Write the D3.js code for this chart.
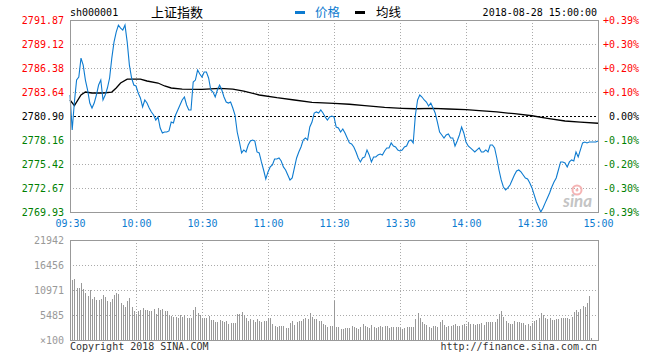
<!DOCTYPE html>
<html>
<head>
<meta charset="utf-8">
<script src="https://cdn.jsdelivr.net/npm/d3@7"></script>
<style>
  html, body { margin: 0; padding: 0; background: #fff; }
  svg { display: block; }
  .mono { font-family: "DejaVu Sans Mono", "Liberation Mono", monospace; font-size: 10px; }
</style>
</head>
<body>
<svg id="chart" width="660" height="360"></svg>
<script>
// ---------------- data ----------------
const prevClose = 2780.90;
const priceTicks = [2791.87, 2789.12, 2786.38, 2783.64, 2780.90, 2778.16, 2775.42, 2772.67, 2769.93];
const priceLabels = ["2791.87", "2789.12", "2786.38", "2783.64", "2780.90", "2778.16", "2775.42", "2772.67", "2769.93"];
const pctLabels = ["+0.39%", "+0.30%", "+0.20%", "+0.10%", "0.00%", "-0.10%", "-0.20%", "-0.30%", "-0.39%"];
const timeTicks = [0, 30, 60, 90, 120, 150, 180, 210, 240];
const timeLabels = ["09:30", "10:00", "10:30", "11:00", "11:30", "13:30", "14:00", "14:30", "15:00"];
const volTicks = [0, 5485, 10971, 16456, 21942];
const volLabels = ["\u00d7100", "5485", "10971", "16456", "21942"];

// minute-by-minute index price (09:30 .. 15:00)
const prices = [
2783.30,2779.30,2782.50,2785.01,2785.35,2787.52,2786.72,2785.01,2783.87,2782.38,
2781.81,2782.38,2783.30,2784.44,2785.01,2782.73,2783.30,2784.10,2785.24,2787.52,
2789.35,2790.49,2791.29,2790.95,2790.72,2791.29,2789.35,2786.72,2785.24,2784.44,
2784.33,2783.53,2782.96,2781.93,2782.73,2782.38,2781.81,2781.36,2781.01,2780.44,
2780.79,2779.53,2778.96,2779.07,2779.07,2779.19,2780.21,2780.10,2781.01,2781.59,
2782.16,2782.73,2783.07,2782.16,2781.59,2781.59,2784.78,2785.01,2786.15,2785.70,
2785.35,2785.92,2785.92,2785.24,2783.87,2783.64,2783.07,2783.87,2784.44,2783.87,
2783.07,2782.50,2782.38,2782.50,2781.81,2781.01,2779.07,2777.93,2776.68,2777.02,
2776.79,2777.59,2778.05,2778.16,2778.05,2776.79,2776.68,2775.65,2774.73,2773.71,
2774.51,2775.08,2775.31,2775.99,2775.99,2776.10,2775.76,2775.08,2774.73,2774.16,
2773.59,2773.82,2774.96,2776.10,2776.79,2777.36,2778.16,2778.39,2778.16,2779.64,
2780.21,2781.24,2781.36,2781.24,2781.59,2781.24,2780.79,2780.44,2780.79,2780.90,
2780.79,2779.64,2779.53,2779.07,2779.42,2778.96,2778.39,2777.82,2777.70,2777.36,
2776.79,2776.10,2775.65,2776.10,2776.22,2777.02,2776.45,2775.65,2776.22,2776.22,
2776.45,2776.56,2776.45,2776.90,2777.25,2777.25,2777.82,2777.47,2777.36,2777.02,
2776.90,2777.02,2777.36,2777.47,2778.05,2778.16,2777.82,2781.01,2782.73,2783.30,
2783.07,2782.73,2782.50,2782.04,2782.38,2781.81,2781.24,2780.21,2779.07,2778.73,
2778.39,2778.73,2778.84,2778.39,2778.39,2777.47,2778.05,2778.73,2779.64,2778.96,
2777.93,2777.47,2777.25,2777.02,2776.79,2777.02,2777.25,2776.79,2776.79,2777.02,
2776.79,2777.59,2777.59,2777.25,2776.10,2774.73,2773.59,2772.79,2772.45,2772.68,
2773.02,2773.59,2774.16,2774.62,2774.73,2774.51,2774.16,2773.82,2773.71,2773.25,
2772.68,2771.88,2771.08,2770.51,2769.93,2770.40,2770.97,2771.54,2772.11,2772.79,
2773.36,2773.82,2774.73,2775.65,2775.65,2775.53,2775.08,2775.65,2775.88,2775.76,
2776.79,2776.22,2777.02,2777.82,2777.93,2777.82,2777.93,2777.93,2777.93,2777.93,
2778.05
];

// average price line, read at key minutes
const avgMinutes = [0,2,5,7,10,15,19,21,23,26,32,35,40,43,46,51,60,68,74,79,86,94,102,110,120,127,134,143,151,157,165,172,180,186,194,202,210,217,225,232,240];
const avgPrices = [2782.73,2782.08,2783.30,2783.64,2783.53,2783.53,2783.64,2784.10,2784.67,2785.12,2785.12,2784.90,2784.67,2784.33,2784.10,2783.98,2783.95,2784.06,2783.98,2783.75,2783.30,2782.99,2782.73,2782.46,2782.35,2782.24,2782.08,2781.89,2781.78,2781.73,2781.78,2781.70,2781.62,2781.51,2781.36,2781.16,2780.93,2780.64,2780.33,2780.21,2780.07];

// minute volume (x100)
const volumes = [
21942,
13165,13385,11410,11410,12507,11190,10313,9654,10971,8996,
9435,8777,8777,8996,9874,9435,8557,8338,8996,9874,
10313,10093,8119,7680,7241,8557,9216,7241,6363,5705,
6363,6583,7021,6583,6583,6363,6363,6802,5705,7021,
6583,6802,6363,6363,5486,5266,5047,5047,4827,5486,
5047,5486,4827,4827,4827,6583,7241,5924,5486,4827,
4827,4827,5266,4388,4388,3950,3950,4388,4169,3950,
4169,3511,3730,3730,3730,5705,5705,6144,5486,4827,
4169,4608,4388,3950,4608,4169,3950,4169,4169,4827,
4827,3511,3072,2852,3072,3072,3072,2633,2633,3730,
4169,3291,3950,4169,4169,4608,4827,4608,5924,5047,
4608,4608,4169,4169,3511,3291,2852,3072,3072,
8630,
2852,2852,2414,2414,2633,2633,2633,3072,2852,2633,
2414,2852,3511,3072,2852,2633,3291,2852,2633,2852,
3072,2852,3072,3072,2633,2852,2852,2852,2852,2633,
2414,2633,2852,2852,2852,2852,4608,5924,4827,3950,
3511,3291,2852,2633,3072,3072,2852,3950,4388,3291,
2852,3072,3072,3291,3511,3072,3072,3291,3511,3072,
3950,3511,3511,3291,3511,3511,3730,3291,3950,3950,
3950,3950,3950,4608,5705,6363,5047,4169,3730,3511,
3511,4169,3950,3950,3730,3730,3291,3511,3072,3730,
4169,4388,4827,5924,5486,4827,4608,4827,4388,4388,
4608,4608,4827,4827,4827,4827,4608,5047,6144,6583,
6144,6802,7460,7241,8119,9654,439,0,0,0
];

// ---------------- drawing ----------------
const svg = d3.select("#chart");
const L = 70, R = 598, PT = 20, PB = 212, VT = 240, VB = 340;
const BLUE = "#0d7bd0", RED = "#ff0000", GREEN = "#008000", GRID = "#aaaaaa", FRAME = "#999999";

const x = d3.scaleLinear().domain([0, 240]).range([L, R]);
const yP = d3.scaleLinear().domain([priceTicks[8], priceTicks[0]]).range([PB, PT]);
const yV = d3.scaleLinear().domain([0, 21942]).range([VB, VT]);

const snap = v => Math.round(v) + 0.5;

// ---- price panel grid ----
const grid = svg.append("g").attr("shape-rendering", "crispEdges");
grid.selectAll("line.hp").data(priceTicks.filter((d, i) => i > 0 && i < 8 && i !== 4))
  .join("line").attr("x1", L).attr("x2", R)
  .attr("y1", d => snap(yP(d))).attr("y2", d => snap(yP(d)))
  .attr("stroke", GRID).attr("stroke-dasharray", "1,2");
grid.selectAll("line.vp").data(timeTicks.slice(1, 8))
  .join("line").attr("y1", PT).attr("y2", PB)
  .attr("x1", d => snap(x(d))).attr("x2", d => snap(x(d)))
  .attr("stroke", GRID).attr("stroke-dasharray", "1,2");

// ---- volume panel grid ----
const vgrid = svg.append("g").attr("shape-rendering", "crispEdges");
vgrid.selectAll("line").data(volTicks.slice(1, 4))
  .join("line").attr("x1", L).attr("x2", R)
  .attr("y1", d => snap(yV(d))).attr("y2", d => snap(yV(d)))
  .attr("stroke", GRID).attr("stroke-dasharray", "1,2");
vgrid.selectAll("line.v").data(timeTicks.slice(1, 8))
  .join("line").attr("y1", VT).attr("y2", VB)
  .attr("x1", d => snap(x(d))).attr("x2", d => snap(x(d)))
  .attr("stroke", GRID).attr("stroke-dasharray", "1,2");

// ---- volume bars ----
svg.append("g").attr("shape-rendering", "crispEdges")
  .selectAll("rect").data(volumes)
  .join("rect")
  .attr("x", (d, i) => Math.round(x(i)))
  .attr("width", 1)
  .attr("y", d => yV(d))
  .attr("height", d => VB - yV(d))
  .attr("fill", "#999999");

// ---- zero (previous close) line ----
svg.append("line").attr("shape-rendering", "crispEdges")
  .attr("x1", L).attr("x2", R)
  .attr("y1", snap(yP(prevClose))).attr("y2", snap(yP(prevClose)))
  .attr("stroke", "#000").attr("stroke-dasharray", "2,2");

// ---- sina watermark ----
const wm = svg.append("g");
wm.append("circle").attr("cx", 577).attr("cy", 190).attr("r", 4.5)
  .attr("fill", "none").attr("stroke", "#f5b4b4").attr("stroke-width", 2);
wm.append("circle").attr("cx", 577).attr("cy", 190).attr("r", 1.5).attr("fill", "#f5b4b4");
wm.append("text").attr("x", 563).attr("y", 207)
  .attr("font-family", "Lato, 'DejaVu Sans', sans-serif")
  .attr("font-style", "italic").attr("font-weight", "bold")
  .attr("font-size", 17).attr("fill", "#c4c4c4").text("sina");

// ---- average line ----
svg.append("path")
  .datum(avgMinutes.map((m, i) => [m, avgPrices[i]]))
  .attr("fill", "none").attr("stroke", "#000").attr("stroke-width", 1.3)
  .attr("d", d3.line().x(d => x(d[0])).y(d => yP(d[1])));

// ---- price line ----
svg.append("path")
  .datum(prices)
  .attr("fill", "none").attr("stroke", BLUE).attr("stroke-width", 1.1)
  .attr("d", d3.line().x((d, i) => x(i)).y(d => yP(d)));

// ---- frames ----
const frames = svg.append("g").attr("shape-rendering", "crispEdges").attr("fill", "none").attr("stroke", FRAME);
frames.append("rect").attr("x", L + 0.5).attr("y", PT + 0.5).attr("width", R - L).attr("height", PB - PT);
frames.append("rect").attr("x", L + 0.5).attr("y", VT + 0.5).attr("width", R - L).attr("height", VB - VT);

// ---- axes ----
function styleAxis(g) {
  g.select(".domain").remove();
  g.selectAll("text").attr("class", "mono").attr("font-family", null).attr("font-size", null);
}
const ax = svg.append("g").attr("transform", `translate(${L},0)`)
  .call(d3.axisLeft(yP).tickValues(priceTicks).tickSize(0).tickPadding(6)
    .tickFormat((d, i) => priceLabels[i]));
styleAxis(ax);
ax.selectAll("text").attr("fill", (d, i) => i < 4 ? RED : (i === 4 ? "#000" : GREEN));

const axR = svg.append("g").attr("transform", `translate(${R},0)`)
  .call(d3.axisRight(yP).tickValues(priceTicks).tickSize(0)
    .tickFormat((d, i) => pctLabels[i]));
styleAxis(axR);
axR.selectAll("text").attr("text-anchor", "end").attr("x", 41)
  .attr("fill", (d, i) => i < 4 ? RED : (i === 4 ? "#000" : GREEN));

const axB = svg.append("g").attr("transform", `translate(0,${PB})`)
  .call(d3.axisBottom(x).tickValues(timeTicks).tickSize(0)
    .tickFormat((d, i) => timeLabels[i]));
styleAxis(axB);
axB.selectAll("text").attr("y", 11.5).attr("dy", "0.35em").attr("fill", BLUE);

const axV = svg.append("g").attr("transform", `translate(${L},0)`)
  .call(d3.axisLeft(yV).tickValues(volTicks).tickSize(0).tickPadding(6)
    .tickFormat((d, i) => volLabels[i]));
styleAxis(axV);
axV.selectAll("text").attr("fill", "#999999");

// ---- header ----
svg.append("text").attr("class", "mono").attr("x", L).attr("y", 16).attr("fill", "#000").text("sh000001");
svg.append("text").attr("x", 151).attr("y", 17)
  .attr("font-family", "'Noto Sans CJK SC', sans-serif").attr("font-size", 13).attr("fill", "#000").text("上证指数");
svg.append("rect").attr("x", 295).attr("y", 11).attr("width", 10).attr("height", 3).attr("fill", BLUE);
svg.append("text").attr("x", 315).attr("y", 17)
  .attr("font-family", "'Noto Sans CJK SC', sans-serif").attr("font-size", 12.5).attr("fill", BLUE).text("价格");
svg.append("rect").attr("x", 355).attr("y", 11).attr("width", 10).attr("height", 3).attr("fill", "#000");
svg.append("text").attr("x", 376).attr("y", 17)
  .attr("font-family", "'Noto Sans CJK SC', sans-serif").attr("font-size", 12.5).attr("fill", "#000").text("均线");
svg.append("text").attr("class", "mono").attr("x", 597).attr("y", 16).attr("text-anchor", "end")
  .attr("fill", "#000").text("2018-08-28 15:00:00");

// ---- footer ----
svg.append("text").attr("class", "mono").attr("x", L).attr("y", 350).attr("fill", "#333").text("Copyright 2018 SINA.COM");
svg.append("text").attr("class", "mono").attr("x", 597).attr("y", 350).attr("text-anchor", "end")
  .attr("fill", "#333").text("http://finance.sina.com.cn");
</script>
</body>
</html>
